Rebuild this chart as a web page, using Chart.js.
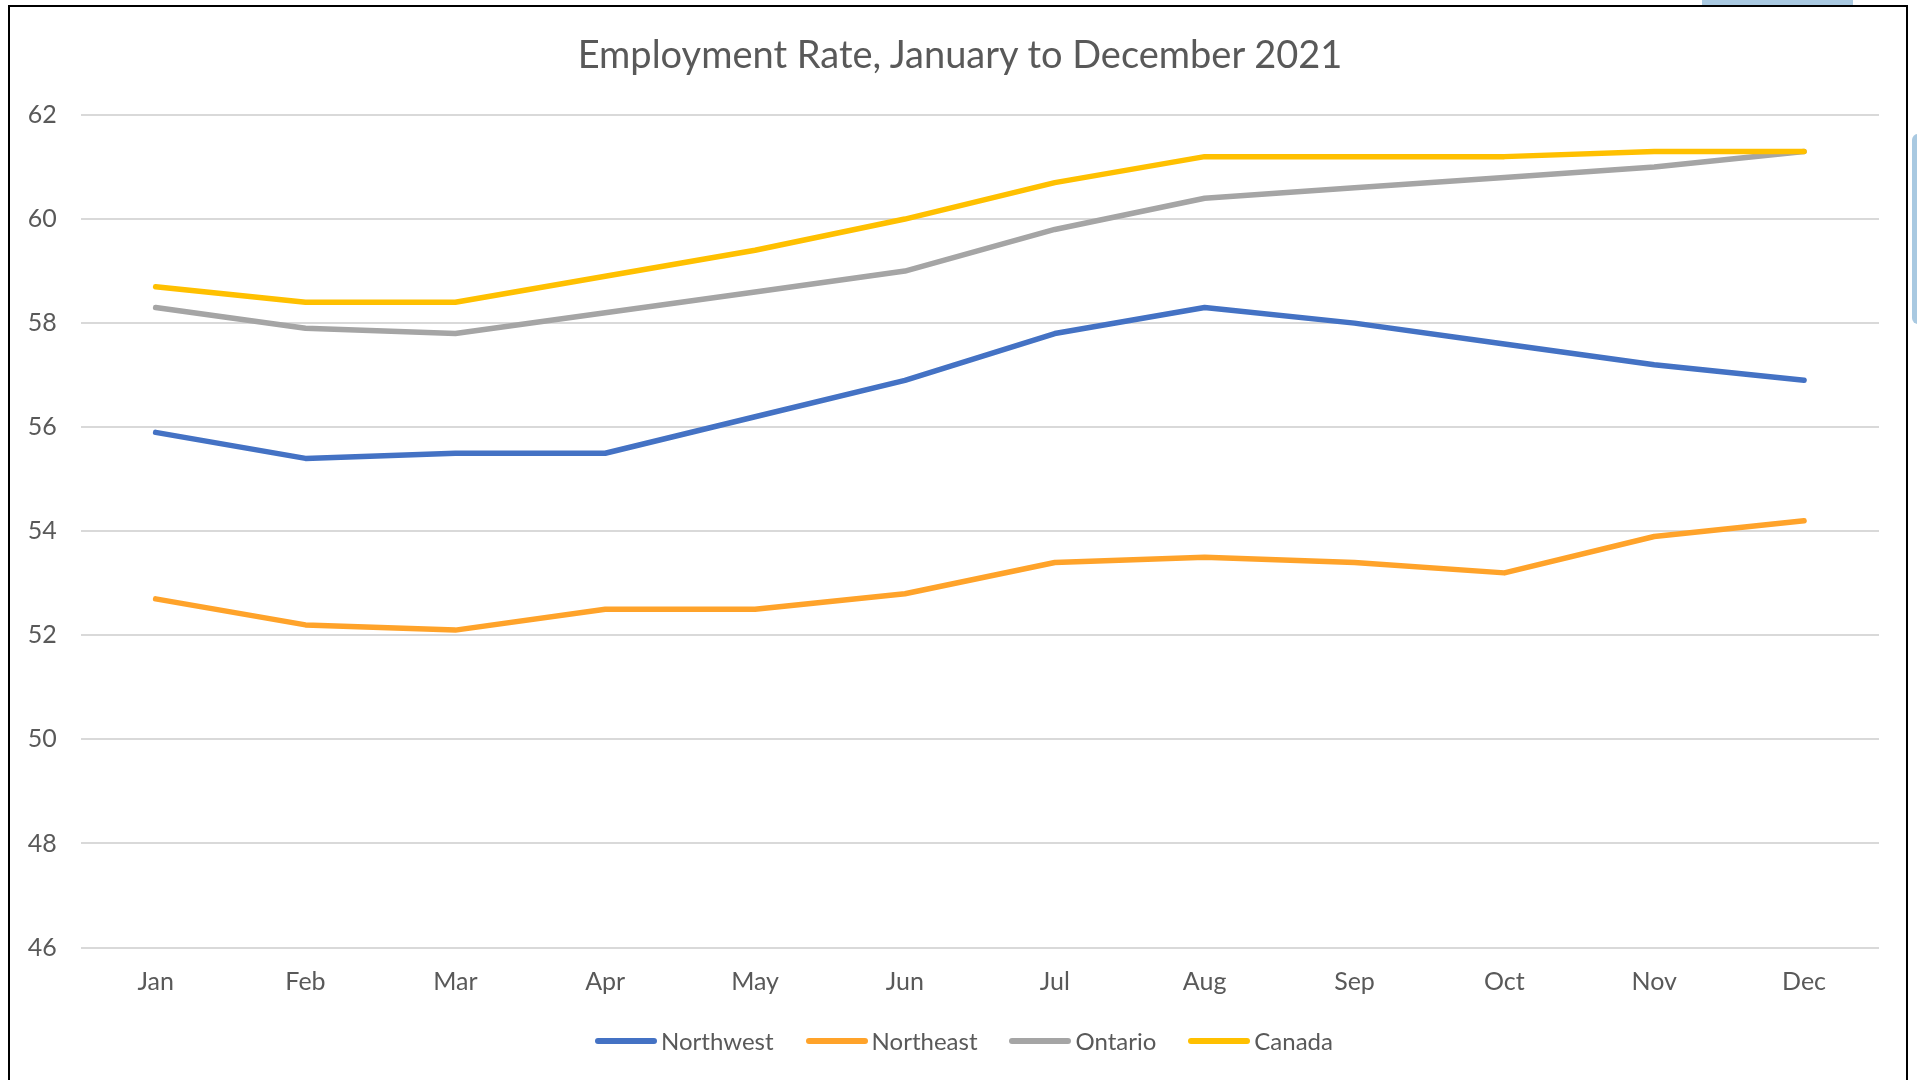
<!DOCTYPE html>
<html>
<head>
<meta charset="utf-8">
<script src="https://cdn.jsdelivr.net/npm/chart.js@4"></script>
<style>
  html, body { margin: 0; padding: 0; background: #ffffff; overflow: hidden; }
  #wrap { position: relative; width: 1917px; height: 1080px; }
  #c { position: absolute; left: 0; top: 0; }
  #frame { position: absolute; left: 8px; top: 5px; width: 1900px; height: 1100px; border: 2px solid #000; box-sizing: border-box; pointer-events: none; }
  .deco { position: absolute; background: #a9c9e1; }
  #title { position: absolute; left: 0; top: 30px; width: 1920px; text-align: center; line-height: 46px;
           font-family: Lato, "Open Sans", sans-serif; font-size: 38px; color: #595959; white-space: nowrap; }
  #legend { position: absolute; left: 0; top: 1026px; width: 1928px; display: flex; justify-content: center; align-items: center;
            font-family: Lato, "Open Sans", sans-serif; font-size: 24px; line-height: 29px; color: #595959; }
  .li { display: flex; align-items: center; margin: 0 16px; }
  .sw { width: 62px; height: 6px; border-radius: 3px; margin-right: 4px; }
</style>
</head>
<body>
<div id="wrap">
  <div class="deco" style="left:1702px; top:0; width:151px; height:6px;"></div>
  <div class="deco" style="left:1912px; top:134px; width:12px; height:190px; border-radius:6px;"></div>
  <canvas id="c" width="1917" height="1080"></canvas>
  <div id="frame"></div>
  <div id="title"></div>
  <div id="legend"></div>
</div>
<script>
const months = ['Jan','Feb','Mar','Apr','May','Jun','Jul','Aug','Sep','Oct','Nov','Dec'];
const northwest = [55.9, 55.4, 55.5, 55.5, 56.2, 56.9, 57.8, 58.3, 58.0, 57.6, 57.2, 56.9];
const northeast = [52.7, 52.2, 52.1, 52.5, 52.5, 52.8, 53.4, 53.5, 53.4, 53.2, 53.9, 54.2];
const ontario   = [58.3, 57.9, 57.8, 58.2, 58.6, 59.0, 59.8, 60.4, 60.6, 60.8, 61.0, 61.3];
const canada    = [58.7, 58.4, 58.4, 58.9, 59.4, 60.0, 60.7, 61.2, 61.2, 61.2, 61.3, 61.3];
const seriesNames = ['Northwest', 'Northeast', 'Ontario', 'Canada'];
const seriesColors = ['#4472C4', '#FFA32A', '#A5A5A5', '#FFC000'];
const titleText = 'Employment Rate, January to December 2021';
const yMin = 46, yMax = 62, yStep = 2;

const FONT = 'Lato, "Open Sans", sans-serif';
const TEXT = '#595959';

document.getElementById('title').textContent = titleText;

const seriesData = [northwest, northeast, ontario, canada];
const datasets = seriesData.map((d, i) => ({
  label: seriesNames[i],
  data: d,
  borderColor: seriesColors[i],
  backgroundColor: seriesColors[i],
  borderWidth: 5.5,
  pointRadius: 0,
  pointHoverRadius: 0,
  tension: 0,
  borderCapStyle: 'round',
  borderJoinStyle: 'round',
  fill: false,
  order: 4 - i
}));

const chart = new Chart(document.getElementById('c'), {
  type: 'line',
  data: { labels: months, datasets },
  options: {
    responsive: false,
    animation: false,
    devicePixelRatio: 1,
    layout: { padding: { left: 0, right: 38, top: 115, bottom: 82 } },
    plugins: {
      legend: { display: false },
      tooltip: { enabled: false },
      title: { display: false }
    },
    scales: {
      x: {
        offset: true,
        grid: { display: false, drawTicks: false },
        border: { display: false },
        ticks: { color: TEXT, font: { family: FONT, size: 25, lineHeight: 1.2 }, padding: 19, maxRotation: 0 },
        afterFit: (s) => { s.height = 50.5; }
      },
      y: {
        min: yMin, max: yMax,
        grid: { color: '#D9D9D9', lineWidth: 2, drawTicks: false },
        border: { display: false },
        ticks: { stepSize: yStep, color: TEXT, font: { family: FONT, size: 25 }, padding: 24 },
        afterFit: (s) => { s.width = 80.7; }
      }
    }
  }
});

const lg = document.getElementById('legend');
chart.data.datasets.forEach(ds => {
  const item = document.createElement('div');
  item.className = 'li';
  const sw = document.createElement('span');
  sw.className = 'sw';
  sw.style.background = ds.borderColor;
  const tx = document.createElement('span');
  tx.textContent = ds.label;
  item.appendChild(sw);
  item.appendChild(tx);
  lg.appendChild(item);
});
</script>
</body>
</html>
